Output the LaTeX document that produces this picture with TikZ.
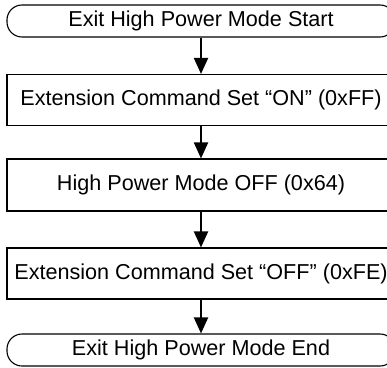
\documentclass[tikz,border=0pt]{standalone}
\usepackage{fontspec}
\setmainfont{Liberation Sans}
\usetikzlibrary{arrows.meta}
\tikzset{
  procbox/.style={draw=black, line width=1.1pt, rectangle, minimum width=388pt, minimum height=51pt, inner sep=0pt, font=\fontsize{21.6}{26}\selectfont},
  termbox/.style={procbox, minimum height=32pt, rounded corners=15pt},
  flowarrow/.style={draw=black, line width=2pt, -{Triangle[width=14pt,length=16pt]}}
}
\begin{document}
\begin{tikzpicture}[x=1pt,y=1pt]
\useasboundingbox (0,0) rectangle (387,367);
\node[termbox] (start) at (201,346) {Exit High Power Mode Start};
\node[procbox] (s1) at (201,267) {Extension Command Set “ON” (0xFF)};
\node[procbox, minimum height=52pt] (s2) at (201,182) {High Power Mode OFF (0x64)};
\node[procbox] (s3) at (201,93.5) {Extension Command Set “OFF” (0xFE)};
\node[termbox] (end) at (201,17) {Exit High Power Mode End};
\draw[flowarrow] (start.south) -- (s1.north);
\draw[flowarrow] (s1.south) -- (s2.north);
\draw[flowarrow] (s2.south) -- (s3.north);
\draw[flowarrow] (s3.south) -- (end.north);
\end{tikzpicture}
\end{document}
